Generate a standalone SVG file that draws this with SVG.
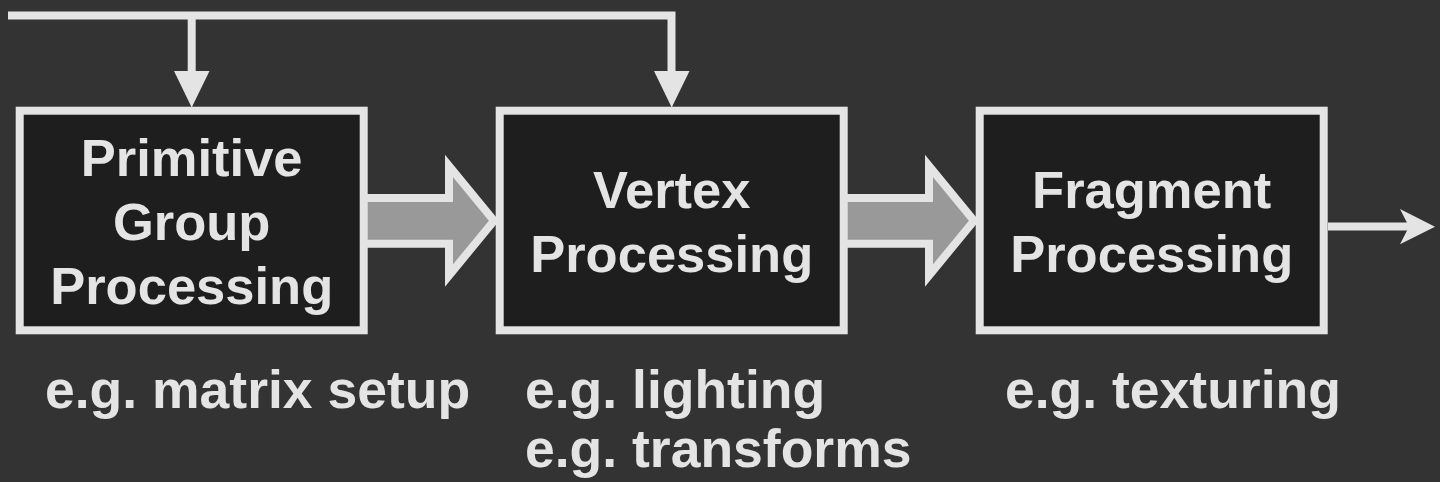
<svg xmlns="http://www.w3.org/2000/svg" width="1440" height="482" viewBox="0 0 1440 482">
  <style>
    .box { fill: #1e1e1e; stroke: #e4e4e4; stroke-width: 8; }
    .label { font-family: "Liberation Sans", Arial, sans-serif; font-weight: bold; fill: #e4e4e4; }
    .node-text { font-size: 52.5px; text-anchor: middle; }
    .note { font-size: 53.5px; }
    .wire { fill: none; stroke: #e4e4e4; stroke-width: 8; stroke-linejoin: miter; }
    .head { fill: #e4e4e4; }
    .flow { fill: #999999; stroke: #e4e4e4; stroke-width: 8; stroke-linejoin: miter; }
  </style>
  <rect width="1440" height="482" fill="#333333"/>

  <g id="connectors">
    <!-- shared input bus feeding the first two stages -->
    <path class="wire" d="M8,15.5 H671.5 V72"/>
    <path class="wire" d="M191.7,15.5 V72"/>
    <polygon class="head" points="174,71 209.5,71 191.7,107.5"/>
    <polygon class="head" points="654,71 689.5,71 671.7,107.5"/>
    <!-- block arrows between stages -->
    <polygon class="flow" points="360,198 449,198 449,166 494,220.8 449,275.5 449,243.7 360,243.7"/>
    <polygon class="flow" points="840,198 929,198 929,166 974,220.8 929,275.5 929,243.7 840,243.7"/>
    <!-- output -->
    <path class="wire" d="M1328,226.5 H1410"/>
    <path class="head" d="M1435,226.7 L1400,209 L1409,226.7 L1400,244.3 Z"/>
  </g>

  <g id="primitive-group">
    <rect class="box" x="19.7" y="110.7" width="344" height="219.6"/>
    <text class="label node-text" x="191.7" y="176">Primitive</text>
    <text class="label node-text" x="191.7" y="240">Group</text>
    <text class="label node-text" x="191.7" y="304">Processing</text>
  </g>

  <g id="vertex">
    <rect class="box" x="499.7" y="110.7" width="344" height="219.6"/>
    <text class="label node-text" x="671.7" y="208">Vertex</text>
    <text class="label node-text" x="671.7" y="272.3">Processing</text>
  </g>

  <g id="fragment">
    <rect class="box" x="979.7" y="110.7" width="344" height="219.6"/>
    <text class="label node-text" x="1151.7" y="208">Fragment</text>
    <text class="label node-text" x="1151.7" y="272.3">Processing</text>
  </g>

  <g id="notes">
    <text class="label note" x="45" y="408.3">e.g. matrix setup</text>
    <text class="label note" x="525" y="408.3">e.g. lighting</text>
    <text class="label note" x="525" y="467">e.g. transforms</text>
    <text class="label note" x="1005" y="408.3">e.g. texturing</text>
  </g>
</svg>
